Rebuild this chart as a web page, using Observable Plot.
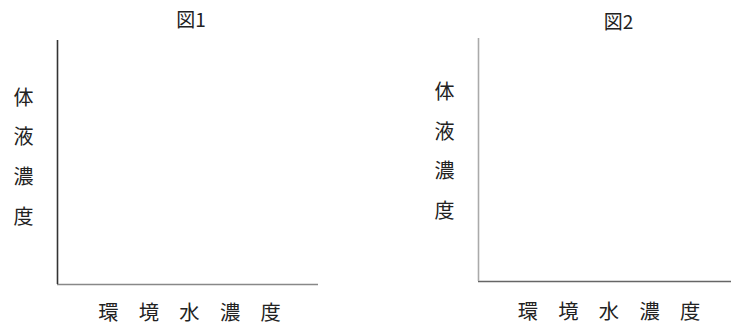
<!DOCTYPE html>
<html>
<head>
<meta charset="utf-8">
<script src="https://cdn.jsdelivr.net/npm/d3@7"></script>
<script src="https://cdn.jsdelivr.net/npm/@observablehq/plot@0.6"></script>
<style>
  html, body { margin: 0; padding: 0; background: #fff; }
  #wrap { position: relative; width: 731px; height: 326px; overflow: hidden; }
  #wrap > div { position: absolute; top: 0; }
  svg { font-family: "Noto Sans CJK JP", "Noto Sans", sans-serif; }
</style>
</head>
<body>
<div id="wrap"><div id="p1" style="left:0"></div><div id="p2" style="left:365px"></div></div>
<script>
const titles = ["図1", "図2"];
const yLabelChars = ["体", "液", "濃", "度"];
const xLabelChars = ["環", "境", "水", "濃", "度"];
const domain = [0, 1];

const panels = [
  {el: "p1", width: 365, mL: 57, mR: 47, mT: 40, mB: 42, yCol: "#333", xCol: "#888",
   tDx: 3, tDy: -20, yDx: -34, yDy: -11, xDx: 1.5, xDy: 29},
  {el: "p2", width: 366, mL: 113, mR: 0, mT: 38, mB: 45, yCol: "#aaa", xCol: "#666",
   tDx: 13.5, tDy: -16, yDx: -34, yDy: -14, xDx: 4, xDy: 31}
];

panels.forEach((p, i) => {
  const chart = Plot.plot({
    width: p.width,
    height: 326,
    marginLeft: p.mL,
    marginRight: p.mR,
    marginTop: p.mT,
    marginBottom: p.mB,
    x: {domain, axis: null},
    y: {domain, axis: null},
    style: {background: "#fff", overflow: "visible"},
    marks: [
      Plot.ruleY([0], {stroke: p.xCol, strokeWidth: 1.6}),
      Plot.ruleX([0], {stroke: p.yCol, strokeWidth: 1.6}),
      Plot.text([titles[i]], {frameAnchor: "top", text: d => d, textAnchor: "middle", lineAnchor: "middle",
        dx: p.tDx, dy: p.tDy, fontSize: 19, fill: "#222"}),
      Plot.text([yLabelChars.join("\n")], {frameAnchor: "left", text: d => d, textAnchor: "middle", lineAnchor: "middle",
        lineHeight: 1.98, dx: p.yDx, dy: p.yDy, fontSize: 20, fill: "#222"}),
      Plot.text([xLabelChars.join("\u3000")], {frameAnchor: "bottom", text: d => d, textAnchor: "middle", lineAnchor: "middle",
        dx: p.xDx, dy: p.xDy, fontSize: 20.3, fill: "#222"})
    ]
  });
  document.getElementById(p.el).appendChild(chart);
});
</script>
</body>
</html>
